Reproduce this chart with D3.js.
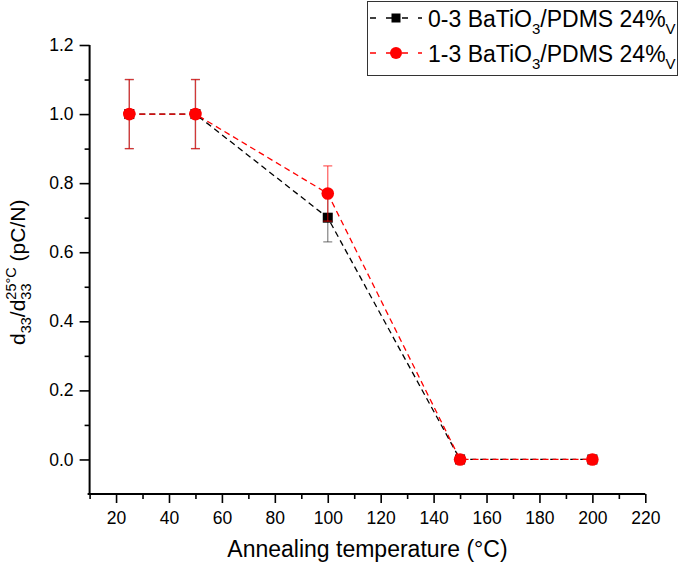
<!DOCTYPE html>
<html><head><meta charset="utf-8">
<script src="https://cdn.jsdelivr.net/npm/d3@7"></script>
<style>body{margin:0;background:#fff}svg{display:block}text{font-family:"Liberation Sans",Arial,sans-serif;fill:#000}</style>
</head><body><svg id="c" width="679" height="566"></svg>
<script>
const temps = [25, 50, 100, 150, 200];
const s03 = [1.0, 1.0, 0.70, 0.0, 0.0];
const e03 = [0.1, 0.1, 0.07, 0.0, 0.0];
const s13 = [1.0, 1.0, 0.77, 0.0, 0.0];
const e13 = [0.1, 0.1, 0.08, 0.0, 0.0];
const xTicks = [20,40,60,80,100,120,140,160,180,200,220];
const xMinor = [10,30,50,70,90,110,130,150,170,190,210];
const yTicks = [0.0,0.2,0.4,0.6,0.8,1.0,1.2];
const yMinor = [0.1,0.3,0.5,0.7,0.9,1.1];

const svg = d3.select("#c");
const x = d3.scaleLinear().domain([10,220]).range([89.6,645.3]);
const y = d3.scaleLinear().domain([-0.1,1.2]).range([494,45]);

// axes
const xa = svg.append("g").attr("transform","translate(0,494)");
xa.call(d3.axisBottom(x).tickValues(xTicks).tickSize(9).tickPadding(9).tickFormat(d3.format("d")));
const xm = svg.append("g").attr("transform","translate(0,494)");
xm.call(d3.axisBottom(x).tickValues(xMinor).tickSize(5).tickFormat(""));
const ya = svg.append("g").attr("transform","translate(89.6,0)");
ya.call(d3.axisLeft(y).tickValues(yTicks).tickSize(10).tickPadding(6).tickFormat(d3.format(".1f")));
const ym = svg.append("g").attr("transform","translate(89.6,0)");
ym.call(d3.axisLeft(y).tickValues(yMinor).tickSize(5).tickFormat(""));
svg.selectAll(".domain").attr("stroke","#000").attr("stroke-width",2);
svg.selectAll(".tick line").attr("stroke","#000").attr("stroke-width",1.6);
svg.selectAll(".tick text").style("font-size","17.5px").attr("fill","#000");
xm.select(".domain").remove(); ym.select(".domain").remove();
xa.select(".domain").attr("d",`M${x(10)-2},0H${x(220)}`);
ya.select(".domain").attr("d",`M0,${y(1.2)}V${y(-0.1)+1}`);

function series(vals, errs, color, ecolor, eop, marker){
  const pts = temps.map((t,i)=>({t, v:vals[i], e:errs[i]}));
  svg.append("path").datum(pts)
    .attr("d", d3.line().x(d=>x(d.t)).y(d=>y(d.v)))
    .attr("fill","none").attr("stroke",color).attr("stroke-width",1.3).attr("stroke-dasharray","6,4");
  const eg = svg.append("g").attr("stroke",ecolor).attr("stroke-opacity",eop).attr("stroke-width",1.3);
  pts.filter(d=>d.e>0).forEach(d=>{
    eg.append("line").attr("x1",x(d.t)).attr("x2",x(d.t)).attr("y1",y(d.v-d.e)).attr("y2",y(d.v+d.e));
    [d.v-d.e, d.v+d.e].forEach(v=>eg.append("line").attr("x1",x(d.t)-4.5).attr("x2",x(d.t)+4.5).attr("y1",y(v)).attr("y2",y(v)));
  });
  pts.forEach(d=>marker(svg, x(d.t), y(d.v)));
}
const sq = (g,cx,cy,s=10)=>g.append("rect").attr("x",cx-s/2).attr("y",cy-s/2).attr("width",s).attr("height",s).attr("fill","#000");
const ci = (g,cx,cy,r=6.3)=>g.append("circle").attr("cx",cx).attr("cy",cy).attr("r",r).attr("fill","#ff0000");
series(s03, e03, "#000", "#000", 0.45, sq);
series(s13, e13, "#ff0000", "#ff0000", 0.6, ci);

// legend
const lg = svg.append("g");
lg.append("rect").attr("x",367.5).attr("y",1.5).attr("width",310).attr("height",74).attr("fill","#fff").attr("stroke","#333").attr("stroke-width",1);
const rows = [{lab:"0-3 BaTiO", c:"#000", m:sq, yy:18},{lab:"1-3 BaTiO", c:"#ff0000", m:ci, yy:53}];
rows.forEach(r=>{
  lg.append("line").attr("x1",370).attr("x2",422).attr("y1",r.yy).attr("y2",r.yy).attr("stroke",r.c).attr("stroke-width",1.3).attr("stroke-dasharray","6,10");
  r.m(lg, 396, r.yy, r.m===sq?9:6);
  const t = lg.append("text").attr("x",428).attr("y",r.yy+8.5).style("font-size","23px");
  t.append("tspan").text(r.lab);
  t.append("tspan").attr("dy",7).style("font-size","15px").text("3");
  t.append("tspan").attr("dy",-7).text("/PDMS 24%");
  t.append("tspan").attr("dy",7).style("font-size","15px").text("V");
});

// x title
svg.append("text").attr("x",(x(10)+x(220))/2).attr("y",557).attr("text-anchor","middle").style("font-size","23px").text("Annealing temperature (°C)");

// y title
const yt = svg.append("text").attr("transform","translate(25,345) rotate(-90)").style("font-size","21px");
yt.append("tspan").text("d");
yt.append("tspan").attr("dy",6).style("font-size","14.5px").text("33");
yt.append("tspan").attr("dy",-6).text("/d");
const sup = yt.append("tspan").attr("dy",-9).style("font-size","14.5px").text("25°C");
const supL = sup.node().getComputedTextLength();
const sub = yt.append("tspan").attr("dy",15).attr("dx",-supL).style("font-size","14.5px").text("33");
const subL = sub.node().getComputedTextLength();
yt.append("tspan").attr("dy",-6).attr("dx",supL-subL).text(" (pC/N)");
</script></body></html>
